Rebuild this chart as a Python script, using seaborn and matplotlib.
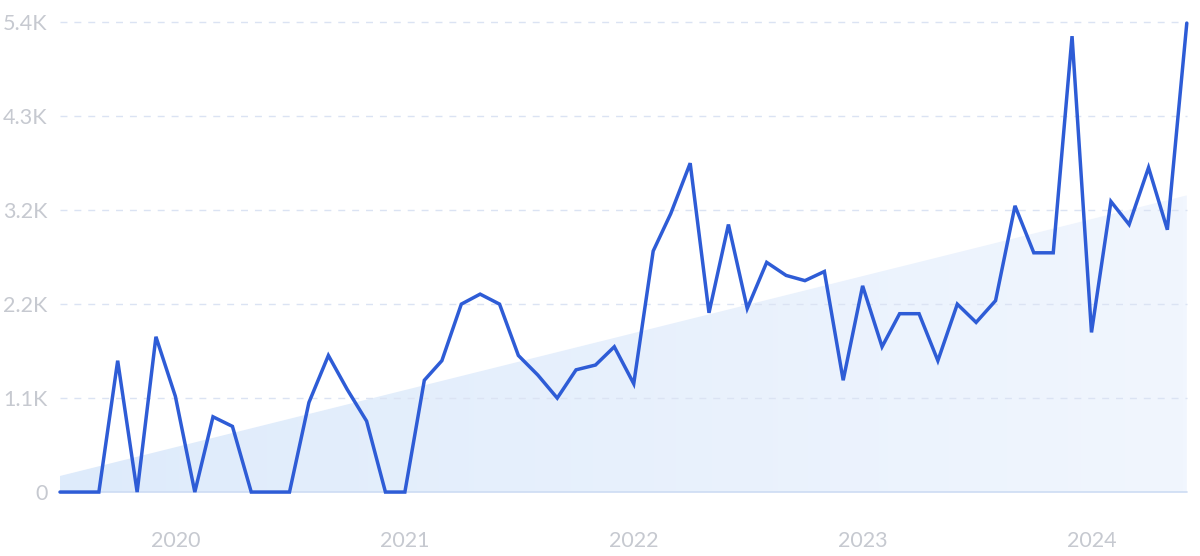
import pandas as pd
import numpy as np
import matplotlib.pyplot as plt
import seaborn as sns
from matplotlib.patches import Polygon

# monthly values, Jul 2019 - Jun 2024
months = pd.date_range('2019-07-01', '2024-06-01', freq='MS')
values = [0, 0, 0, 1510, 0, 1785, 1100, 0, 865, 755,
          0, 0, 0, 1030, 1570, 1180, 815, 0, 0, 1285,
          1510, 2160, 2275, 2160, 1570, 1345, 1080, 1405, 1460, 1670,
          1245, 2770, 3200, 3780, 2060, 3075, 2110, 2640, 2490, 2430,
          2535, 1285, 2370, 1670, 2050, 2050, 1510, 2160, 1950, 2200,
          3290, 2750, 2750, 5240, 1835, 3340, 3075, 3730, 3015, 5390]
trend_start = 185
trend_end = 3410

y_ticks = [0, 1080, 2160, 3240, 4320, 5400]
y_labels = ['0', '1.1K', '2.2K', '3.2K', '4.3K', '5.4K']
x_years = ['2020', '2021', '2022', '2023', '2024']

df = pd.DataFrame({'month': months, 'value': values})

sns.set_style('white')
plt.rcParams['font.family'] = ['Lato', 'DejaVu Sans']

fig = plt.figure(figsize=(12, 5.56), dpi=100)
ax = fig.add_axes([0.05, 0.115, 0.939, 0.845])

# trend area with a soft left-to-right gradient
x0, x1 = months[0], months[-1]
ax.set_xlim(x0, x1)
ax.set_ylim(0, 5400)
poly = Polygon([(ax.convert_xunits(x0), 0), (ax.convert_xunits(x0), trend_start),
                (ax.convert_xunits(x1), trend_end), (ax.convert_xunits(x1), 0)],
               closed=True, facecolor='none', edgecolor='none')
ax.add_patch(poly)
grad = np.linspace(0, 1, 256).reshape(1, -1)
cmap = sns.blend_palette(['#deebfb', '#f1f6fe'], as_cmap=True)
img = ax.imshow(grad, cmap=cmap, aspect='auto', origin='lower',
                extent=[ax.convert_xunits(x0), ax.convert_xunits(x1), 0, 5400], zorder=0)
img.set_clip_path(poly)

for t in y_ticks[1:]:
    ax.axhline(t, color='#dbe3f3', lw=1, ls=(0, (5, 5)), zorder=1)
ax.axhline(0, color='#cddcf3', lw=1.2, zorder=1)

sns.lineplot(data=df, x='month', y='value', ax=ax, color='#2e5cd6', lw=2.5, zorder=3)
for ln in ax.lines:
    ln.set_clip_on(False)
ax.lines[-1].set_solid_joinstyle('miter')

ax.set_xlim(x0, x1)
ax.set_ylim(0, 5400)
ax.set_yticks(y_ticks)
ax.set_yticklabels(y_labels)
ax.set_xticks([pd.Timestamp(y + '-01-01') for y in x_years])
ax.set_xticklabels(x_years)
ax.tick_params(axis='both', length=0, labelsize=15.5, labelcolor='#c6c9d0')
ax.tick_params(axis='y', pad=9)
ax.tick_params(axis='x', pad=28)
ax.set_xlabel('')
ax.set_ylabel('')
sns.despine(ax=ax, left=True, bottom=True)

fig.savefig('out.png', dpi=100)
